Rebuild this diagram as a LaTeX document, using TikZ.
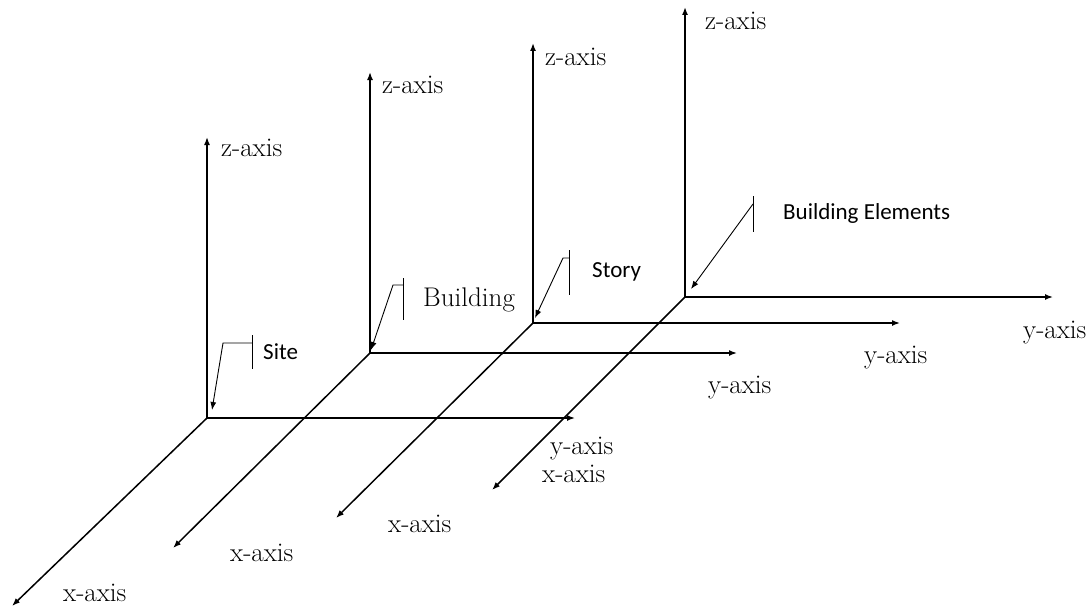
\documentclass[tikz,border=0pt]{standalone}
\usepackage{fontspec}
\newfontfamily\calibri{Carlito}
\usetikzlibrary{arrows.meta}

\begin{document}
\begin{tikzpicture}[
    x=1pt, y=-1pt, >={Latex[length=8pt,width=6pt]},
    axis/.style={->, line width=1.5pt},
    callout/.style={line width=0.9pt},
    axislabel/.style={anchor=west, inner sep=0pt, font=\fontsize{27}{31}\selectfont},
    tag/.style={anchor=west, inner sep=0pt, font=\calibri\fontsize{23}{27}\selectfont}
]
\useasboundingbox (0,0) rectangle (1092,610);

% Define origins and axis ends
\coordinate (site) at (207,418);
\coordinate (site_z) at (207,137);
\coordinate (site_y) at (575,418);
\coordinate (site_x) at (12,606);

\coordinate (building) at (370,353);
\coordinate (building_z) at (370,72);
\coordinate (building_y) at (737,353);
\coordinate (building_x) at (173,548);

\coordinate (story) at (533,323);
\coordinate (story_z) at (533,43);
\coordinate (story_y) at (900,323);
\coordinate (story_x) at (336,518);

\coordinate (elements) at (685,297);
\coordinate (elements_z) at (685,7);
\coordinate (elements_y) at (1053,297);
\coordinate (elements_x) at (492,490);

% Labels
\node (site_zl) [axislabel] at (221,148) {z-axis};
\node (site_yl) [axislabel] at (550,449) {y-axis};
\node (site_xl) [axislabel] at (63,593) {x-axis};
\node (building_zl) [axislabel] at (382,85) {z-axis};
\node (building_yl) [axislabel] at (708,388) {y-axis};
\node (building_xl) [axislabel] at (230,553) {x-axis};
\node (story_zl) [axislabel] at (545,57) {z-axis};
\node (story_yl) [axislabel] at (864,358) {y-axis};
\node (story_xl) [axislabel] at (388,524) {x-axis};
\node (elements_zl) [axislabel] at (705,21) {z-axis};
\node (elements_yl) [axislabel] at (1023,333) {y-axis};
\node (elements_xl) [axislabel] at (542,474) {x-axis};

\node (site_tag) [tag] at (263,352) {Site};
\node (building_tag) [axislabel] at (423,300) {Building};
\node (story_tag) [tag] at (592,272) {Story};
\node (elements_tag) [tag] at (783,213) {Building Elements};

% Draw axes
\foreach \o in {site, building, story, elements} {
    \draw[axis] (\o) -- (\o_z);
    \draw[axis] (\o) -- (\o_y);
    \draw[axis] (\o) -- (\o_x);
}

% Callouts
\coordinate (site_bar) at (252,335);
\coordinate (site_bar_end) at (252,369);
\coordinate (site_knee) at (223,343);
\coordinate (site_tip) at (212,410);
\draw[callout] (site_bar) -- (site_bar_end);
\draw[callout, ->] (site_bar |- site_knee) -- (site_knee) -- (site_tip);

\coordinate (building_bar) at (403,278);
\coordinate (building_bar_end) at (403,320);
\coordinate (building_knee) at (393,285);
\coordinate (building_tip) at (371,350);
\draw[callout] (building_bar) -- (building_bar_end);
\draw[callout, ->] (building_bar |- building_knee) -- (building_knee) -- (building_tip);

\coordinate (story_bar) at (569,250);
\coordinate (story_bar_end) at (569,295);
\coordinate (story_knee) at (563,258);
\coordinate (story_tip) at (535,318);
\draw[callout] (story_bar) -- (story_bar_end);
\draw[callout, ->] (story_bar |- story_knee) -- (story_knee) -- (story_tip);

\coordinate (elements_bar) at (753,196);
\coordinate (elements_bar_end) at (753,232);
\coordinate (elements_knee) at (753,204);
\coordinate (elements_tip) at (691,289);
\draw[callout] (elements_bar) -- (elements_bar_end);
\draw[callout, ->] (elements_knee) -- (elements_tip);
\end{tikzpicture}
\end{document}
